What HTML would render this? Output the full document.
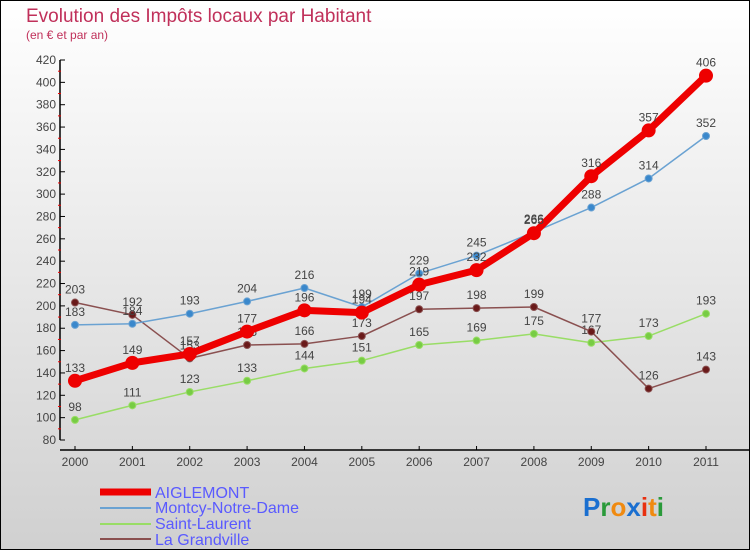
<!DOCTYPE html>
<html><head><meta charset="utf-8"><style>
body{margin:0}
svg{display:block;font-family:"Liberation Sans",sans-serif}
</style></head><body>
<svg width="750" height="550">
<defs><linearGradient id="bg" x1="0" y1="0" x2="0" y2="1"><stop offset="0" stop-color="#ffffff"/><stop offset="1" stop-color="#d0d0d0"/></linearGradient></defs>
<rect x="0.5" y="0.5" width="749" height="549" fill="url(#bg)" stroke="#000"/>
<text x="26" y="22" font-size="19" fill="#c0305a">Evolution des Impôts locaux par Habitant</text>
<text x="26" y="39" font-size="12" fill="#c0305a">(en € et par an)</text>
<g id="axes"></g><g id="series"></g>
<g>
<line x1="100" y1="492" x2="151" y2="492" stroke="#ee0000" stroke-width="7"/>
<text x="155" y="498" font-size="16" fill="#5a5aff">AIGLEMONT</text>
<line x1="100" y1="508" x2="151" y2="508" stroke="#6aa2d2" stroke-width="2"/>
<text x="155" y="513" font-size="16" fill="#5a5aff">Montcy-Notre-Dame</text>
<line x1="100" y1="524" x2="151" y2="524" stroke="#99dd66" stroke-width="2"/>
<text x="155" y="529" font-size="16" fill="#5a5aff">Saint-Laurent</text>
<line x1="100" y1="539" x2="151" y2="539" stroke="#8a5050" stroke-width="2"/>
<text x="155" y="545" font-size="16" fill="#5a5aff">La Grandville</text>
</g>
<g font-size="26" font-weight="bold">
<text x="583" y="516"><tspan fill="#1a6fd0">P</tspan><tspan fill="#2a9a3a">r</tspan><tspan fill="#f08a10">o</tspan><tspan fill="#1a6fd0">x</tspan><tspan fill="#e83010">i</tspan><tspan fill="#f08a10">t</tspan><tspan fill="#2a9a3a">i</tspan></text>
</g>
</svg>
<script>
const years=[2000,2001,2002,2003,2004,2005,2006,2007,2008,2009,2010,2011];
const yTicks=[80,100,120,140,160,180,200,220,240,260,280,300,320,340,360,380,400,420];
const aiglemont=[133,149,157,177,196,194,219,232,265,316,357,406];
const montcy=[183,184,193,204,216,199,229,245,266,288,314,352];
const saintLaurent=[98,111,123,133,144,151,165,169,175,167,173,193];
const laGrandville=[203,192,153,165,166,173,197,198,199,177,126,143];
const NS="http://www.w3.org/2000/svg";
function X(i){return 75+i*(706-75)/(years.length-1);}
function Y(v){return 440-(v-80)*380/340;}
function mk(tag,attrs,parent){const e=document.createElementNS(NS,tag);for(const k in attrs)e.setAttribute(k,attrs[k]);parent.appendChild(e);return e;}
const ax=document.getElementById('axes');
let yl=mk('line',{x1:60,y1:Y(420),x2:60,y2:Y(80),stroke:'#000','stroke-width':1.5},ax);


let xl=mk('line',{x1:60,y1:450,x2:750,y2:450,stroke:'#000','stroke-width':1.5},ax);


yTicks.forEach(v=>{
  mk('line',{x1:60,y1:Y(v),x2:65,y2:Y(v),stroke:'#000'},ax);
  if(v<420)mk('line',{x1:58,y1:Y(v+10),x2:61,y2:Y(v+10),stroke:'#e00'},ax);
  const t=mk('text',{x:56,y:Y(v)+4,'font-size':12,fill:'#444','text-anchor':'end'},ax);
  t.textContent=v;
  
  
});
years.forEach((yr,i)=>{
  mk('line',{x1:X(i),y1:446,x2:X(i),y2:450,stroke:'#000'},ax);
  const t=mk('text',{x:X(i),y:466,'font-size':12,fill:'#444','text-anchor':'middle'},ax);
  t.textContent=yr;
  
  
});
const sg=document.getElementById('series');
function draw(vals,color,w,r,name,dot){
  const g=mk('g',{},sg);
  
  
  mk('polyline',{points:vals.map((v,i)=>X(i)+','+Y(v)).join(' '),fill:'none',stroke:color,'stroke-width':w,'stroke-linejoin':'round'},g);
  vals.forEach((v,i)=>{
    const c=mk('circle',{cx:X(i),cy:Y(v),r:r,fill:dot,stroke:color,'stroke-width':1},g);
    
    
    const t=mk('text',{x:X(i),y:Y(v)-9,'font-size':12,fill:'#444','text-anchor':'middle'},g);
    t.textContent=v;
    
    
  });
}
draw(saintLaurent,'#99dd66',1.5,3.5,'saint-laurent','#77cc44');
draw(laGrandville,'#8a5050',1.5,3.5,'la-grandville','#6a1a1a');
draw(montcy,'#6aa2d2',1.5,3.5,'montcy','#3a88cc');
draw(aiglemont,'#ee0000',7,6.5,'aiglemont','#ee0000');
</script>
</body></html>
